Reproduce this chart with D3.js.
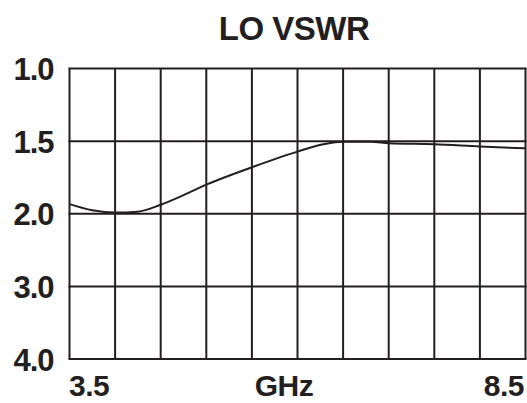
<!DOCTYPE html>
<html>
<head>
<meta charset="utf-8">
<script src="https://cdn.jsdelivr.net/npm/d3@7"></script>
<style>
  html, body { margin: 0; padding: 0; background: #fff; }
  svg { display: block; }
  text { font-family: "Liberation Sans", Arial, sans-serif; font-weight: bold; fill: #231f20; }
</style>
</head>
<body>
<svg id="svg" width="527" height="403"></svg>
<script>
const title = 'LO VSWR'
const xLabel = 'GHz'
const xGridTicks = [3.5, 4.0, 4.5, 5.0, 5.5, 6.0, 6.5, 7.0, 7.5, 8.0, 8.5]
const xLabelTicks = [3.5, 8.5]
const yTicks = [1.0, 1.5, 2.0, 3.0, 4.0]

const freq = [3.5, 3.75, 4.0, 4.25, 4.5, 4.75, 5.0, 5.5, 6.0, 6.3, 6.5, 6.8, 7.0, 7.5, 8.0, 8.5]
const vswr = [1.934, 1.976, 1.992, 1.986, 1.938, 1.872, 1.80, 1.68, 1.572, 1.52, 1.505, 1.505, 1.514, 1.521, 1.537, 1.55]

const plotLeft = 69.5
const plotRight = 525.5
const plotTop = 68.5
const plotBottom = 359

const xScale = d3.scaleLinear()
  .domain([3.5, 8.5])
  .range([plotLeft, plotRight])

// VSWR axis is not linear: the printed values sit at equal steps
const yScale = d3.scaleLinear()
  .domain(yTicks)
  .range(yTicks.map((d, i) => plotTop + i * (plotBottom - plotTop) / (yTicks.length - 1)))

const svg = d3.select('#svg')
const ink = '#231f20'

// grid
const grid = svg.append('g')
grid.selectAll('line.v')
  .data(xGridTicks)
  .join('line')
  .attr('class', 'v')
  .attr('x1', d => xScale(d))
  .attr('x2', d => xScale(d))
  .attr('y1', plotTop)
  .attr('y2', plotBottom)
  .attr('stroke', ink)
  .attr('stroke-width', 2)

grid.selectAll('line.h')
  .data(yTicks)
  .join('line')
  .attr('class', 'h')
  .attr('x1', plotLeft - 1)
  .attr('x2', plotRight + 1)
  .attr('y1', d => yScale(d))
  .attr('y2', d => yScale(d))
  .attr('stroke', ink)
  .attr('stroke-width', 2)

// curve
const line = d3.line()
  .x((d, i) => xScale(freq[i]))
  .y(d => yScale(d))
  .curve(d3.curveMonotoneX)

svg.append('path')
  .attr('d', line(vswr))
  .attr('fill', 'none')
  .attr('stroke', ink)
  .attr('stroke-width', 2)

// y labels
const yAxis = d3.axisLeft(yScale)
  .tickValues(yTicks)
  .tickFormat(d3.format('.1f'))
  .tickSize(0)
  .tickPadding(16)

const yg = svg.append('g')
  .attr('transform', `translate(${plotLeft}, 0)`)
  .call(yAxis)
yg.select('.domain').remove()
yg.selectAll('text')
  .attr('font-size', 31)
  .attr('letter-spacing', -1)
  .attr('fill', ink)
  .attr('dy', '0.36em')
yg.attr('font-family', null).attr('font-size', null)

// x labels
const xAxis = d3.axisBottom(xScale)
  .tickValues(xLabelTicks)
  .tickFormat(d3.format('.1f'))
  .tickSize(0)
  .tickPadding(0)

const xg = svg.append('g')
  .attr('transform', `translate(0, ${plotBottom})`)
  .call(xAxis)
xg.select('.domain').remove()
xg.selectAll('text')
  .attr('font-size', 30)
  .attr('letter-spacing', -0.5)
  .attr('fill', ink)
  .attr('dy', null)
  .attr('y', 37)
  .attr('text-anchor', (d, i) => i === 0 ? 'start' : 'end')
  .attr('x', (d, i) => i === 0 ? -1 : -2)
xg.attr('font-family', null).attr('font-size', null)

svg.append('text')
  .attr('x', 284)
  .attr('y', 396)
  .attr('text-anchor', 'middle')
  .attr('font-size', 30)
  .attr('letter-spacing', -0.5)
  .text(xLabel)

svg.append('text')
  .attr('x', 294)
  .attr('y', 39.5)
  .attr('text-anchor', 'middle')
  .attr('font-size', 33)
  .attr('letter-spacing', -0.5)
  .text(title)
</script>
</body>
</html>
